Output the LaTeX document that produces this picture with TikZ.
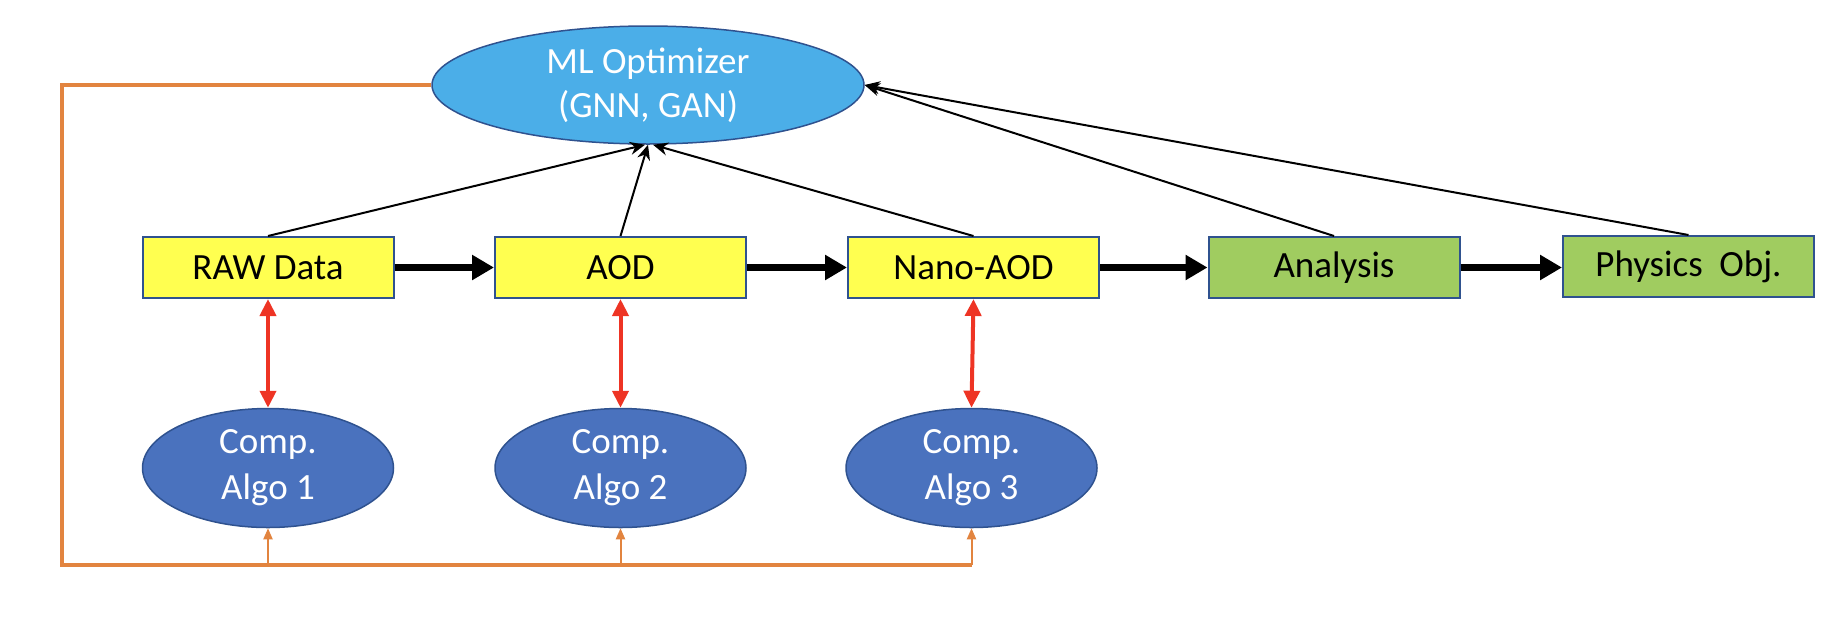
\documentclass[tikz,border=0pt]{standalone}
\usepackage{fontspec}
\setmainfont{Carlito}
\usetikzlibrary{shapes.geometric,arrows.meta}
\definecolor{mlblue}{RGB}{75,174,232}
\definecolor{algoblue}{RGB}{74,114,190}
\definecolor{edgeblue}{RGB}{47,82,143}
\definecolor{boxyellow}{RGB}{255,255,80}
\definecolor{boxgreen}{RGB}{160,204,96}
\definecolor{fborange}{RGB}{226,132,63}
\definecolor{arrred}{RGB}{238,52,36}
\tikzset{
  lbl/.style={font=\fontsize{37}{44}\selectfont, align=center, inner sep=0pt},
  mlnode/.style={ellipse, lbl, draw=edgeblue, line width=1.5pt, fill=mlblue, text=white,
    minimum width=432pt, minimum height=118pt},
  algonode/.style={ellipse, lbl, draw=edgeblue, line width=1.5pt, fill=algoblue, text=white,
    minimum width=251pt, minimum height=119pt, font=\fontsize{37}{46}\selectfont},
  ybox/.style={rectangle, lbl, draw=edgeblue, line width=2pt, fill=boxyellow,
    minimum width=251pt, minimum height=61pt},
  gbox/.style={ybox, fill=boxgreen},
  flow/.style={line width=7pt, -{Triangle[length=22pt,width=24pt]}},
  feed/.style={line width=2pt, -{Stealth[length=15pt,width=13pt]}},
  link/.style={arrred, line width=4pt, {Triangle[length=17pt,width=16pt]}-{Triangle[length=17pt,width=16pt]}},
  loop/.style={fborange, line width=3.5pt},
  loopup/.style={fborange, line width=2pt, -{Triangle[length=11pt,width=9pt]}}
}
\begin{document}
\begin{tikzpicture}[x=1pt,y=-1pt]
\useasboundingbox (0,0) rectangle (1838,622);
\node[mlnode] (ml) at (648,85) {ML Optimizer\\(GNN, GAN)};
\node[ybox] (raw) at (268,267.5) {RAW Data};
\node[ybox] (aod) at (620.5,267.5) {AOD};
\node[ybox] (nano) at (973.5,267.5) {Nano-AOD};
\node[gbox] (ana) at (1334,267.5) {Analysis};
\node[gbox] (phys) at (1688.5,266.5) {Physics\ \ Obj.};
\node[algonode] (c1) at (268,468) {Comp.\\Algo 1};
\node[algonode] (c2) at (620.5,468) {Comp.\\Algo 2};
\node[algonode] (c3) at (971.5,468) {Comp.\\Algo 3};
\coordinate (lt) at (62,85);
\coordinate (lb) at (62,565);
% flow
\draw[flow] (raw.east) -- (aod.west);
\draw[flow] (aod.east) -- (nano.west);
\draw[flow] (nano.east) -- (ana.west);
\draw[flow] (ana.east) -- (ana.east -| phys.west);
% feeds to ML
\draw[feed] (raw.north) -- ([xshift=-3pt]ml.south);
\draw[feed] (aod.north) -- (ml.south);
\draw[feed] (nano.north) -- ([xshift=5pt]ml.south);
\draw[feed] (ana.north) -- (ml.east);
\draw[feed] (phys.north) -- (ml.east);
% red links
\draw[link] (raw.south) -- (c1.north);
\draw[link] (aod.south) -- (c2.north);
\draw[link] (nano.south) -- (c3.north);
% orange loop
\draw[loop] (ml.west) -- (lt) -- (lb) -- (c3.south |- lb);
\draw[loopup] (c1.south |- lb) -- (c1.south);
\draw[loopup] (c2.south |- lb) -- (c2.south);
\draw[loopup] (c3.south |- lb) -- (c3.south);
\end{tikzpicture}
\end{document}
